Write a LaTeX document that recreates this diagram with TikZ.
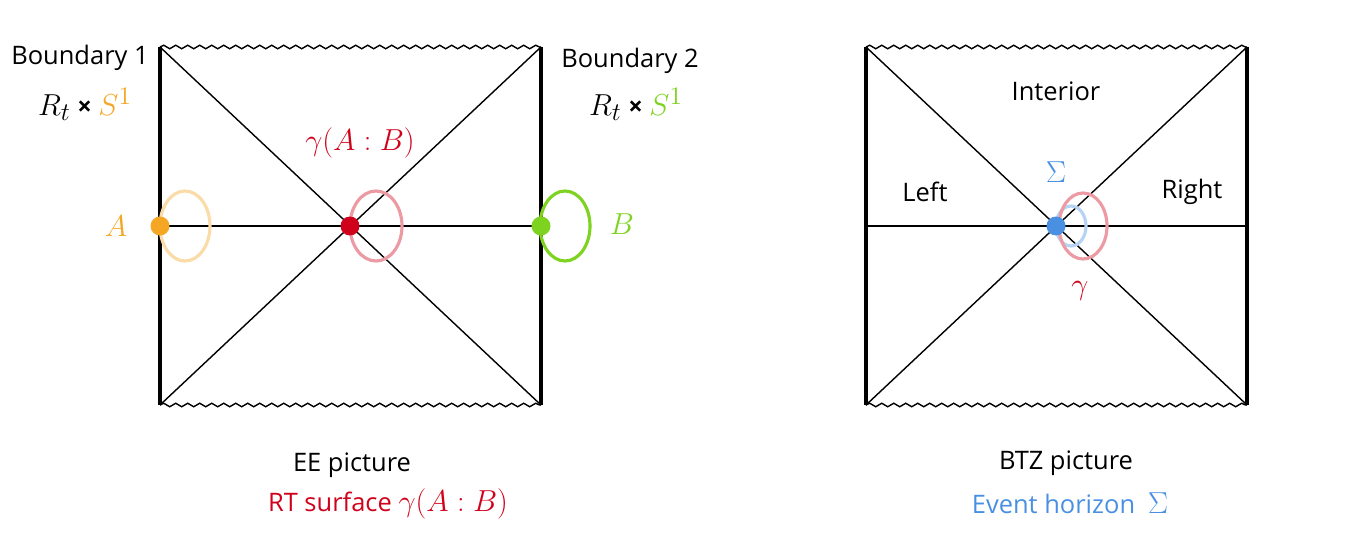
\documentclass[tikz,border=0pt]{standalone}
\usepackage{fontspec}
\setmainfont{Open Sans}
\usetikzlibrary{decorations.pathmorphing}
\definecolor{aorange}{HTML}{F5A623}
\definecolor{bgreen}{HTML}{7ED321}
\definecolor{rtred}{HTML}{D0021B}
\definecolor{hblue}{HTML}{4A90E2}
\newcommand{\mathlbl}[1]{{\fontsize{19}{22}\selectfont$#1$}}
\tikzset{
  wavy/.style={decorate, decoration={snake, amplitude=0.035cm, segment length=0.24cm}},
  edge/.style={line width=2pt},
  dot/.style={circle, fill=#1, inner sep=0pt, minimum size=0.38cm},
  lbl/.style={font=\fontsize{14.5}{17}\selectfont, inner sep=0pt}
}
\begin{document}
\begin{tikzpicture}[x=0.02cm, y=-0.02cm, line width=0.8pt]
    \useasboundingbox (0,0) rectangle (1356,547);

    % EE picture
    \coordinate (lTL) at (160,47);  \coordinate (lTR) at (541,47);
    \coordinate (lBL) at (160,405); \coordinate (lBR) at (541,405);
    \coordinate (lL) at (160,226);  \coordinate (lR) at (541,226);
    \draw[wavy] (lTL) -- (lTR);
    \draw[wavy] (lBL) -- (lBR);
    \draw[edge] (lTL) -- (lBL);
    \draw[edge] (lTR) -- (lBR);
    \draw (lTL) -- (lBR);
    \draw (lTR) -- (lBL);
    \draw (lL) -- (lR);
    \draw[aorange!40, line width=1.8pt] (185,226) ellipse [x radius=25, y radius=35];
    \draw[rtred!40, line width=1.8pt] (376,226) ellipse [x radius=26, y radius=35];
    \draw[bgreen, line width=1.8pt] (565,226) ellipse [x radius=25, y radius=35];
    \node[dot=aorange] (A) at (lL) {};
    \node[dot=rtred] (rt) at (350,226) {};
    \node[dot=bgreen] (B) at (lR) {};
    \node[lbl, text=aorange] (labA) at (116,226) {\mathlbl{A}};
    \node[lbl, text=bgreen] (labB) at (622,224) {\mathlbl{B}};
    \node[lbl, text=rtred] (labRT) at (360,143) {\mathlbl{\gamma(A:B)}};
    \node[lbl] (bd1) at (80,58) {Boundary 1};
    \node[lbl] (bd1m) at (85,104) {\mathlbl{R_t} \textbf{×} \textcolor{aorange}{\mathlbl{S^1}}};
    \node[lbl] (bd2) at (630,61) {Boundary 2};
    \node[lbl] (bd2m) at (636,104) {\mathlbl{R_t} \textbf{×} \textcolor{bgreen}{\mathlbl{S^1}}};
    \node[lbl] (ee) at (352,465) {EE picture};
    \node[lbl, text=rtred] (eesub) at (388,504) {RT surface \mathlbl{\gamma(A:B)}};

    % BTZ picture
    \coordinate (rTL) at (866,47);  \coordinate (rTR) at (1247,47);
    \coordinate (rBL) at (866,405); \coordinate (rBR) at (1247,405);
    \coordinate (rL) at (866,226);  \coordinate (rR) at (1247,226);
    \draw[wavy] (rTL) -- (rTR);
    \draw[wavy] (rBL) -- (rBR);
    \draw[edge] (rTL) -- (rBL);
    \draw[edge] (rTR) -- (rBR);
    \draw (rTL) -- (rBR);
    \draw (rTR) -- (rBL);
    \draw (rL) -- (rR);
    \draw[hblue!40, line width=1.8pt] (1071,226) ellipse [x radius=15, y radius=20];
    \draw[rtred!40, line width=1.8pt] (1083,226) ellipse [x radius=24, y radius=33];
    \node[dot=hblue] (hz) at (1056,226) {};
    \node[lbl, text=hblue] (labS) at (1056,172) {\mathlbl{\Sigma}};
    \node[lbl, text=rtred] (labG) at (1080,291) {\mathlbl{\gamma}};
    \node[lbl] (inter) at (1056,91) {Interior};
    \node[lbl] (left) at (925,192) {Left};
    \node[lbl] (right) at (1192,192) {Right};
    \node[lbl] (btz) at (1066,463) {BTZ picture};
    \node[lbl, text=hblue] (btzsub) at (1070,503) {Event horizon\enspace\mathlbl{\Sigma}};
\end{tikzpicture}
\end{document}
